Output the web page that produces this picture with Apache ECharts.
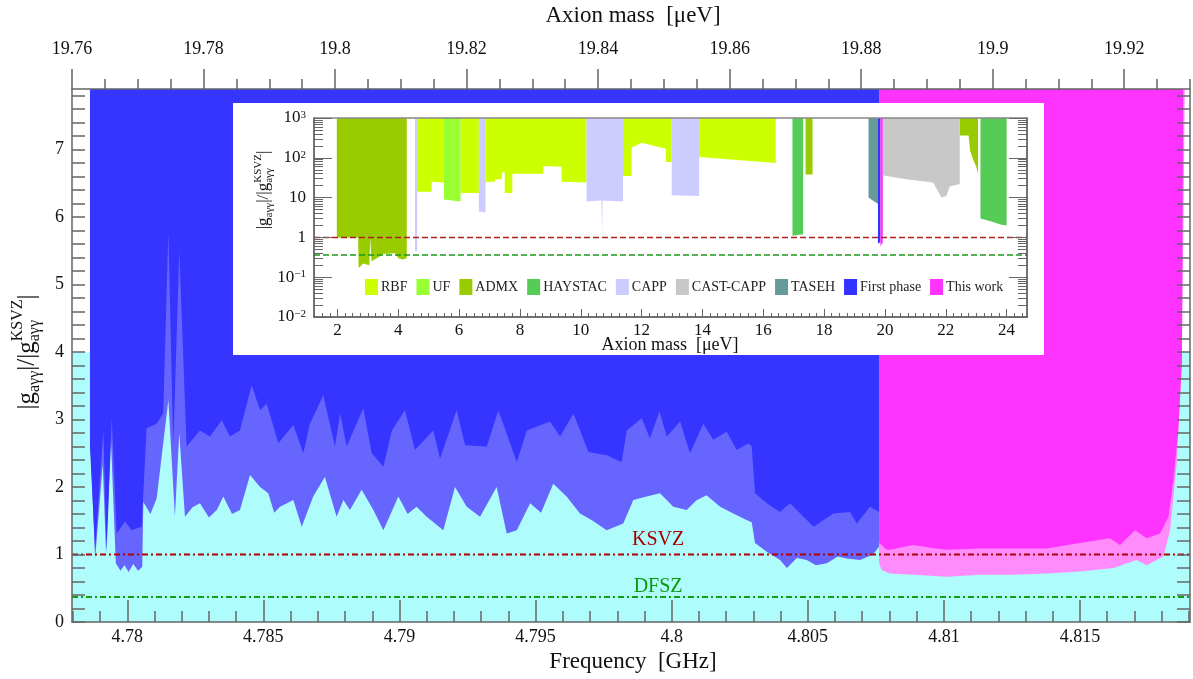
<!DOCTYPE html>
<html>
<head>
<meta charset="utf-8">
<script src="https://cdn.jsdelivr.net/npm/echarts@6/dist/echarts.min.js"></script>
<style>
  html, body { margin: 0; background: #fff; }
  #main { width: 1193px; height: 679px; }
</style>
</head>
<body>
<div id="main"></div>
<script>
// ---- main panel ----
var freqRange = [4.77797, 4.81904]           // GHz
var massRange = [19.76, 19.93]               // ueV (top axis)
var yMax = 7.9
var freqTicks = [4.78, 4.785, 4.79, 4.795, 4.8, 4.805, 4.81, 4.815]
var massTicks = [19.76, 19.78, 19.8, 19.82, 19.84, 19.86, 19.88, 19.9, 19.92]
var yTicks = [0, 1, 2, 3, 4, 5, 6, 7]
var ksvz = 1
var dfsz = 0.37
var bandTop = 4

// first phase, edge of the dark blue region
var firstPhaseUpper = [
  [4.77863, 2.6], [4.77882, 1.07], [4.77912, 2.84], [4.77924, 1.04], [4.77943, 3.02], [4.77961, 1.31],
  [4.77992, 1.49], [4.78016, 1.36], [4.78053, 1.41], [4.78071, 2.87], [4.78108, 2.94], [4.78132, 3.09],
  [4.78151, 5.78], [4.78169, 2.6], [4.78191, 5.5], [4.78218, 2.6], [4.78267, 2.84], [4.78304, 2.75],
  [4.78347, 2.99], [4.78377, 2.75], [4.78414, 2.84], [4.78457, 3.51], [4.78488, 3.14], [4.78512, 3.24],
  [4.78555, 2.65], [4.78610, 2.92], [4.78647, 2.5], [4.78671, 2.94], [4.78720, 3.36], [4.78763, 2.6],
  [4.78782, 3.09], [4.78806, 2.6], [4.78867, 3.17], [4.78898, 2.5], [4.78941, 2.3], [4.78972, 2.84],
  [4.79020, 3.14], [4.79057, 2.55], [4.79124, 2.84], [4.79149, 2.42], [4.79210, 3.14], [4.79241, 2.62],
  [4.79321, 2.6], [4.79363, 3.14], [4.79431, 2.37], [4.79468, 2.84], [4.79553, 2.97], [4.79590, 2.75],
  [4.79639, 3.09], [4.79694, 2.52], [4.79761, 2.47], [4.79816, 2.37], [4.79835, 2.84], [4.79890, 3.02],
  [4.79920, 2.72], [4.79955, 3.12], [4.79982, 2.75], [4.80031, 2.97], [4.80067, 2.5], [4.80116, 2.94],
  [4.80153, 2.7], [4.80202, 2.82], [4.80239, 2.55], [4.80282, 2.65], [4.80294, 2.6], [4.80306, 1.91],
  [4.80349, 1.76], [4.80398, 1.63], [4.80435, 1.76], [4.80484, 1.56], [4.80521, 1.41], [4.80594, 1.61],
  [4.80655, 1.63], [4.80680, 1.46], [4.80729, 1.71], [4.80762, 1.63]
]
// first phase, edge of the lighter blue region
var firstPhaseLower = [
  [4.77866, 2.5], [4.77882, 0.94], [4.77910, 2.35], [4.77922, 1.02], [4.77940, 2.7], [4.77958, 0.87],
  [4.77975, 0.76], [4.77990, 0.84], [4.78005, 0.74], [4.78022, 0.86], [4.78040, 0.76], [4.78055, 0.82],
  [4.78059, 1.78], [4.78085, 1.6], [4.78108, 1.83], [4.78151, 3.29], [4.78175, 1.56], [4.78191, 2.8],
  [4.78212, 1.56], [4.78240, 1.7], [4.78267, 1.76], [4.78300, 1.55], [4.78329, 1.66], [4.78353, 1.86],
  [4.78385, 1.6], [4.78414, 1.66], [4.78451, 2.18], [4.78488, 2.0], [4.78518, 1.91], [4.78540, 1.62],
  [4.78561, 1.71], [4.78610, 1.81], [4.78641, 1.41], [4.78683, 1.86], [4.78726, 2.15], [4.78769, 1.56],
  [4.78794, 1.81], [4.78818, 1.66], [4.78861, 1.96], [4.78904, 1.66], [4.78941, 1.36], [4.78996, 1.86],
  [4.79030, 1.6], [4.79063, 1.71], [4.79100, 1.56], [4.79161, 1.36], [4.79204, 2.0], [4.79247, 1.71],
  [4.79296, 1.56], [4.79357, 2.0], [4.79394, 1.31], [4.79431, 1.36], [4.79480, 1.76], [4.79520, 1.62],
  [4.79565, 2.05], [4.79614, 1.86], [4.79663, 1.61], [4.79710, 1.5], [4.79761, 1.36], [4.79822, 1.46],
  [4.79859, 1.81], [4.79908, 1.86], [4.79957, 1.91], [4.80006, 1.71], [4.80055, 1.66], [4.80090, 1.8],
  [4.80128, 1.88], [4.80178, 1.71], [4.80226, 1.61], [4.80275, 1.51], [4.80294, 1.48], [4.80306, 1.17],
  [4.80349, 1.04], [4.80398, 0.92], [4.80423, 0.8], [4.80460, 0.95], [4.80496, 0.92], [4.80530, 0.84],
  [4.80570, 0.87], [4.80610, 0.97], [4.80643, 0.94], [4.80692, 0.92], [4.80740, 1.0], [4.80762, 1.12]
]
// this work, edge of the magenta region
var thisWorkUpper = [
  [4.80762, 1.17], [4.80790, 1.07], [4.80802, 1.07], [4.80888, 1.14], [4.80949, 1.1], [4.81010, 1.07],
  [4.81133, 1.09], [4.81255, 1.09], [4.81378, 1.09], [4.81500, 1.17], [4.81610, 1.24], [4.81647, 1.14],
  [4.81702, 1.36], [4.81745, 1.24], [4.81794, 1.31], [4.81825, 1.56], [4.81843, 2.1], [4.81861, 2.84],
  [4.81874, 3.83], [4.81879, 7.9]
]
// this work, edge of the light pink region
var thisWorkLower = [
  [4.80762, 0.87], [4.80771, 0.77], [4.80802, 0.72], [4.80888, 0.7], [4.81010, 0.67], [4.81133, 0.7],
  [4.81255, 0.7], [4.81378, 0.72], [4.81500, 0.75], [4.81623, 0.8], [4.81708, 0.92], [4.81745, 0.84],
  [4.81806, 0.97], [4.81831, 1.36], [4.81855, 2.35], [4.81874, 3.83], [4.81885, 7.9]
]

// ---- inset (axion mass in ueV, log scale) ----
var insetMassRange = [1.23, 24.67]
var insetMassTicks = [2, 4, 6, 8, 10, 12, 14, 16, 18, 20, 22, 24]
var insetLogTicks = [0.01, 0.1, 1, 10, 100, 1000]
var insetBand = [0.04, 4]
var insetKsvz = 1
var insetDfsz = 0.36
var expNames = ['RBF', 'UF', 'ADMX', 'HAYSTAC', 'CAPP', 'CAST-CAPP', 'TASEH', 'First phase', 'This work']
var expColors = ['#ccff00', '#99ff33', '#99cc00', '#55cc55', '#ccccff', '#c8c8c8', '#669999', '#3333ff', '#ff33ff']
var rbf = [
  [[4.62, 14], [5.1, 14], [5.1, 25], [5.5, 24]],
  [[6.05, 13], [6.65, 13]],
  [[6.87, 25], [7.18, 25], [7.18, 29], [7.4, 29], [7.4, 43], [7.5, 43], [7.5, 13], [7.75, 13], [7.75, 40],
   [8.77, 40], [8.77, 62], [9.37, 60], [9.37, 25], [10.19, 24]],
  [[11.39, 35], [11.67, 35], [11.67, 180], [12.0, 240], [12.8, 170], [12.8, 78], [12.99, 78]],
  [[13.89, 104], [16.41, 74]]
]
var uf = [[[5.5, 9], [6.05, 8]]]
var admx = [
  [[1.98, 1.0], [2.68, 1.0], [2.7, 0.17], [2.85, 0.22], [3.05, 0.2], [3.08, 1.0], [3.12, 0.25], [3.3, 0.3],
   [3.5, 0.38], [3.9, 0.4], [4.0, 0.3], [4.15, 0.28], [4.28, 0.3]],
  [[17.39, 38], [17.62, 38]],
  [[22.46, 365], [22.75, 365], [22.8, 150], [22.9, 90], [23.0, 60], [23.06, 40]]
]
var haystac = [
  [[16.96, 1.1], [17.31, 1.2]],
  [[23.14, 3.0], [23.5, 2.5], [23.8, 2.1], [24.0, 2.0]]
]
var capp = [
  [[4.55, 0.45], [4.62, 0.45]],
  [[6.65, 4.5], [6.87, 4.2]],
  [[10.19, 8], [10.68, 8.5], [10.7, 1.2], [10.72, 8.5], [11.39, 8]],
  [[12.99, 11.5], [13.89, 11]]
]
var castCapp = [[[19.94, 36], [20.71, 29], [21.58, 24], [21.86, 10], [22.02, 11], [22.13, 19], [22.46, 22]]]
var taseh = [[[19.46, 10], [19.65, 8], [19.77, 7]]]
var firstPhaseInset = [[[19.77, 0.7], [19.85, 0.75]]]
var thisWorkInset = [[[19.85, 0.6], [19.93, 0.75]]]
var expData = [rbf, uf, admx, haystac, capp, castCapp, taseh, firstPhaseInset, thisWorkInset]

var serif = '"Liberation Serif","DejaVu Serif",serif'
var axisCol = '#666'
var cyan = '#affcfc'

function range(a, b, step, digits) {
  var out = []
  for (var i = Math.round(a / step); i <= Math.round(b / step); i++) out.push(+(i * step).toFixed(digits))
  return out
}
var freqMinor = range(4.778, 4.819, 0.001, 3)
var massMinor = range(19.76, 19.93, 0.005, 3)
var yMinor = range(0, 7.8, 0.2, 1)
var insetMassMinor = range(1.25, 24.5, 0.25, 2)
var insetLogMinor = []
insetLogTicks.slice(0, 5).forEach(function (d) {
  for (var k = 2; k <= 9; k++) insetLogMinor.push(+(k * d).toPrecision(3))
})

function fmt(v) { return String(+(+v).toFixed(4)) }
function logFmt(v) {
  var e = Math.round(Math.log10(v))
  if (e === 0) return '1'
  if (e === 1) return '10'
  return '10{sup|' + (e < 0 ? '\u2212' + (-e) : e) + '}'
}

function axis(o) {
  var base = {
    type: 'value', splitLine: { show: false }, z: 6,
    axisLine: { show: false }, axisTick: { show: false }, axisLabel: { show: false }
  }
  for (var k in o) base[k] = o[k]
  return base
}
function line(show, col) { return { show: show, lineStyle: { color: col || axisCol, width: 1.5 } } }
function ticks(vals, len, inside, w) {
  return { show: true, inside: inside, length: len, customValues: vals, lineStyle: { color: axisCol, width: w || 1.5 } }
}
function labels(vals, size, margin, formatter) {
  return {
    show: true, customValues: vals, margin: margin, formatter: formatter,
    fontFamily: serif, fontSize: size, color: '#111',
    rich: { sup: { fontSize: 11, fontFamily: serif, color: '#111', verticalAlign: 'top', lineHeight: 10 } }
  }
}

var xAxes = [
  axis({ gridIndex: 0, position: 'bottom', min: freqRange[0], max: freqRange[1], axisLine: line(true),
    axisTick: ticks(freqTicks, 22, true), axisLabel: labels(freqTicks, 18, 6, fmt) }),
  axis({ gridIndex: 0, position: 'bottom', min: freqRange[0], max: freqRange[1], axisTick: ticks(freqMinor, 11, true) }),
  axis({ gridIndex: 0, position: 'top', min: massRange[0], max: massRange[1], axisLine: line(true),
    axisTick: ticks(massTicks, 20, false), axisLabel: labels(massTicks, 18, 31, fmt) }),
  axis({ gridIndex: 0, position: 'top', min: massRange[0], max: massRange[1], axisTick: ticks(massMinor, 10, false) }),
  axis({ gridIndex: 1, position: 'bottom', min: insetMassRange[0], max: insetMassRange[1], axisLine: line(true, '#444'),
    axisTick: ticks(insetMassTicks, 8, true, 1), axisLabel: labels(insetMassTicks, 17, 5, fmt), z: 30 }),
  axis({ gridIndex: 1, position: 'bottom', min: insetMassRange[0], max: insetMassRange[1],
    axisTick: ticks(insetMassMinor, 4, true, 1), z: 30 }),
  axis({ gridIndex: 1, position: 'top', min: insetMassRange[0], max: insetMassRange[1], axisLine: line(true, '#888'), z: 30 })
]
var yAxes = [
  axis({ gridIndex: 0, position: 'left', min: 0, max: yMax, axisLine: line(true),
    axisTick: ticks(yMinor, 13, true), axisLabel: labels(yTicks, 18, 8, fmt) }),
  axis({ gridIndex: 0, position: 'right', min: 0, max: yMax, axisLine: line(true), axisTick: ticks(yMinor, 13, true) }),
  axis({ gridIndex: 1, type: 'log', logBase: 10, position: 'left', min: 0.01, max: 1000, axisLine: line(true, '#444'),
    axisTick: ticks(insetLogTicks, 18, true, 1), axisLabel: labels(insetLogTicks, 17, 8, logFmt), z: 30 }),
  axis({ gridIndex: 1, type: 'log', logBase: 10, position: 'left', min: 0.01, max: 1000,
    axisTick: ticks(insetLogMinor, 9, true, 1), z: 30 }),
  axis({ gridIndex: 1, type: 'log', logBase: 10, position: 'right', min: 0.01, max: 1000, axisLine: line(true, '#444'),
    axisTick: ticks(insetLogTicks, 18, true, 1), z: 30 }),
  axis({ gridIndex: 1, type: 'log', logBase: 10, position: 'right', min: 0.01, max: 1000,
    axisTick: ticks(insetLogMinor, 9, true, 1), z: 30 })
]

function fill(name, data, color, origin, z, inset) {
  return {
    name: name, type: 'line', data: data, color: color, symbol: 'none', silent: true, animation: false,
    xAxisIndex: inset ? 4 : 0, yAxisIndex: inset ? 2 : 0,
    lineStyle: { width: 0 }, areaStyle: { color: color, opacity: 1, origin: origin }, z: z
  }
}
function hline(data, color, width, type, z, inset) {
  return {
    type: 'line', data: data, symbol: 'none', silent: true, animation: false,
    xAxisIndex: inset ? 4 : 0, yAxisIndex: inset ? 2 : 0,
    lineStyle: { color: color, width: width, type: type }, z: z
  }
}

var series = [
  fill('band', [[freqRange[0], bandTop], [freqRange[1], bandTop]], cyan, 'start', 1),
  fill('p1 lower', firstPhaseLower, '#6666ff', 'end', 2),
  fill('p1 upper', firstPhaseUpper, '#3535ff', 'end', 3),
  fill('tw lower', thisWorkLower, '#ff8cfa', 'end', 2),
  fill('tw upper', thisWorkUpper, '#ff33ff', 'end', 3),
  hline([[freqRange[0], ksvz], [freqRange[1], ksvz]], '#b00000', 2, [6, 3, 2, 3], 5),
  hline([[freqRange[0], dfsz], [freqRange[1], dfsz]], '#12a012', 2, [6, 3, 2, 3], 5)
]
// inset theory band
var bandSeries = hline([], cyan, 0, 'solid', 19, true)
bandSeries.markArea = {
  silent: true, itemStyle: { color: cyan, opacity: 1 },
  data: [[{ xAxis: insetMassRange[0], yAxis: insetBand[0] }, { xAxis: insetMassRange[1], yAxis: insetBand[1] }]]
}
series.push(bandSeries)
expNames.forEach(function (name, i) {
  expData[i].forEach(function (seg) {
    series.push(fill(name, seg, expColors[i], 'end', 21, true))
  })
})
series.push(hline([[insetMassRange[0], insetKsvz], [insetMassRange[1], insetKsvz]], '#b02020', 1.5, [6, 3], 25, true))
series.push(hline([[insetMassRange[0], insetDfsz], [insetMassRange[1], insetDfsz]], '#1a9a1a', 1.5, [6, 3], 25, true))

// |g_agg| / |g^KSVZ_agg| title, drawn rotated
function gTitle(cx, cy, big, small, z) {
  var ctx = document.createElement('canvas').getContext('2d')
  function w(t, s) { ctx.font = s + 'px "Liberation Serif"'; return ctx.measureText(t).width }
  var kids = [], x = 0
  function add(t, s, dy) {
    kids.push({ type: 'text', x: x, y: dy, z: z,
      style: { text: t, fontSize: s, fontFamily: serif, fill: '#111', verticalAlign: 'middle' } })
  }
  add('|g', big, 0); x += w('|g', big)
  add('a\u03b3\u03b3', small, big * 0.32); x += w('a\u03b3\u03b3', small)
  add('|/|g', big, 0); x += w('|/|g', big)
  add('KSVZ', small, -big * 0.36); add('a\u03b3\u03b3', small, big * 0.32)
  x += Math.max(w('KSVZ', small), w('a\u03b3\u03b3', small))
  add('|', big, 0); x += w('|', big)
  kids.forEach(function (k) { k.x -= x / 2 })
  return { type: 'group', x: cx, y: cy, rotation: Math.PI / 2, children: kids, z: z }
}
function text(x, y, t, size, color, z) {
  return { type: 'text', x: x, y: y, z: z || 12,
    style: { text: t, fontSize: size, fontFamily: serif, fill: color || '#111', align: 'center', verticalAlign: 'middle' } }
}

var chart = echarts.init(document.getElementById('main'))
chart.setOption({
  animation: false,
  backgroundColor: '#fff',
  grid: [
    { left: 72, right: 3, top: 89, bottom: 57 },
    { left: 314, right: 166, top: 118, bottom: 362 }
  ],
  xAxis: xAxes,
  yAxis: yAxes,
  legend: {
    data: expNames, left: 365, top: 279, padding: 0, itemWidth: 13, itemHeight: 16, itemGap: 9,
    icon: 'rect', selectedMode: false, z: 40,
    textStyle: { fontFamily: serif, fontSize: 14, color: '#222', padding: [0, 0, 0, -2] }
  },
  series: series
})

var pK = chart.convertToPixel({ xAxisIndex: 0, yAxisIndex: 0 }, [4.7995, 1.215])
var pD = chart.convertToPixel({ xAxisIndex: 0, yAxisIndex: 0 }, [4.7995, 0.52])
chart.setOption({
  graphic: [
    { type: 'rect', shape: { x: 233, y: 103, width: 811, height: 252 }, style: { fill: '#fff' }, z: 10 },
    text(633, 662, 'Frequency  [GHz]', 23),
    text(633, 16, 'Axion mass  [\u03bceV]', 23),
    text(670, 345, 'Axion mass  [\u03bceV]', 18),
    gTitle(27, 352, 25, 16, 12),
    gTitle(264, 190, 17, 11, 12),
    text(pK[0], pK[1], 'KSVZ', 20, '#a50000', 7),
    text(pD[0], pD[1], 'DFSZ', 20, '#0a9a0a', 7)
  ]
})
</script>
</body>
</html>
